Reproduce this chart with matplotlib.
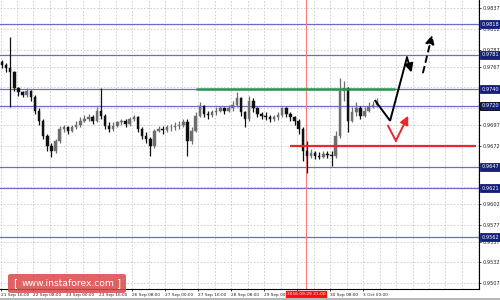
import matplotlib
matplotlib.use("Agg")
import matplotlib.pyplot as plt
from matplotlib.patches import FancyBboxPatch, Rectangle
import matplotlib.transforms as mtransforms
import numpy as np

# ---------------- data ----------------
first_open = 0.9772
closes = [0.9769, 0.9765, 0.9760, 0.9741, 0.9736, 0.9733, 0.9738, 0.9731, 0.9714, 0.9702,
          0.9684, 0.9672, 0.9666, 0.9678, 0.9692, 0.9694, 0.9690, 0.9695, 0.9697, 0.9702,
          0.9704, 0.9707, 0.9702, 0.9714, 0.9708, 0.9696, 0.9692, 0.9696, 0.9700, 0.9702,
          0.9698, 0.9704, 0.9707, 0.9692, 0.9684, 0.9680, 0.9672, 0.9690, 0.9692, 0.9691,
          0.9694, 0.9695, 0.9696, 0.9697, 0.9700, 0.9678, 0.9690, 0.9708, 0.9720, 0.9710,
          0.9709, 0.9712, 0.9714, 0.9717, 0.9714, 0.9717, 0.9721, 0.9729, 0.9712, 0.9704,
          0.9726, 0.9717, 0.9710, 0.9708, 0.9707, 0.9704, 0.9706, 0.9709, 0.9717, 0.9710,
          0.9706, 0.9702, 0.9692, 0.9666, 0.9660, 0.9663, 0.9660, 0.9659, 0.9662, 0.9661,
          0.9660, 0.9684, 0.9738, 0.9741, 0.9702, 0.9712, 0.9717, 0.9708, 0.9714, 0.9719,
          0.9721, 0.9726]
highs = [0.9775, 0.9771, 0.9803, 0.9762, 0.9743, 0.9738, 0.9741, 0.9739, 0.9733, 0.9717,
         0.9704, 0.9686, 0.9675, 0.9680, 0.9696, 0.9697, 0.9696, 0.9697, 0.9702, 0.9706,
         0.9709, 0.9710, 0.9709, 0.9719, 0.9741, 0.9710, 0.9700, 0.9700, 0.9702, 0.9704,
         0.9704, 0.9707, 0.9709, 0.9708, 0.9695, 0.9688, 0.9683, 0.9692, 0.9696, 0.9696,
         0.9697, 0.9698, 0.9700, 0.9702, 0.9704, 0.9704, 0.9695, 0.9712, 0.9724, 0.9721,
         0.9714, 0.9715, 0.9718, 0.9720, 0.9719, 0.9721, 0.9726, 0.9736, 0.9730, 0.9714,
         0.9732, 0.9729, 0.9719, 0.9713, 0.9712, 0.9709, 0.9709, 0.9712, 0.9719, 0.9718,
         0.9712, 0.9708, 0.9704, 0.9695, 0.9678, 0.9668, 0.9666, 0.9665, 0.9666, 0.9666,
         0.9666, 0.9690, 0.9753, 0.9750, 0.9743, 0.9719, 0.9724, 0.9720, 0.9719, 0.9724,
         0.9726, 0.9729]
lows = [0.9765, 0.9760, 0.9719, 0.9738, 0.9732, 0.9730, 0.9731, 0.9726, 0.9710, 0.9697,
        0.9680, 0.9666, 0.9659, 0.9663, 0.9675, 0.9688, 0.9686, 0.9688, 0.9692, 0.9695,
        0.9700, 0.9702, 0.9698, 0.9700, 0.9704, 0.9692, 0.9689, 0.9690, 0.9694, 0.9697,
        0.9695, 0.9696, 0.9702, 0.9688, 0.9680, 0.9675, 0.9660, 0.9669, 0.9688, 0.9686,
        0.9689, 0.9690, 0.9691, 0.9692, 0.9694, 0.9660, 0.9674, 0.9688, 0.9706, 0.9707,
        0.9704, 0.9706, 0.9709, 0.9712, 0.9710, 0.9712, 0.9714, 0.9719, 0.9708, 0.9694,
        0.9702, 0.9713, 0.9707, 0.9704, 0.9703, 0.9701, 0.9702, 0.9703, 0.9707, 0.9707,
        0.9702, 0.9697, 0.9686, 0.9654, 0.9639, 0.9657, 0.9656, 0.9656, 0.9657, 0.9657,
        0.9648, 0.9657, 0.9681, 0.9726, 0.9688, 0.9700, 0.9708, 0.9704, 0.9706, 0.9712,
        0.9717, 0.9719]

levels = [0.9818, 0.9781, 0.9740, 0.9720, 0.9647, 0.9621, 0.9562]
level_labels = ["0.9818", "0.9781", "0.9740", "0.9720", "0.9647", "0.9621", "0.9562"]

ytick_values = [0.9837, 0.9812, 0.9787, 0.9767, 0.9742, 0.9717, 0.9697, 0.9672,
                0.9647, 0.9622, 0.9602, 0.9577, 0.9557, 0.9532, 0.9507]
ytick_labels = ["0.9837", "0.9812", "0.9787", "0.9767", "", "", "0.9697", "0.9672",
                "", "0.9622", "0.9602", "0.9577", "0.9557", "0.9532", "0.9507"]

xtick_labels = ["21 Sep 16:00", "22 Sep 08:00", "23 Sep 00:00", "23 Sep 16:00",
                "26 Sep 08:00", "27 Sep 00:00", "27 Sep 16:00", "28 Sep 08:00",
                "29 Sep 00:00", "", "30 Sep 08:00", "3 Oct 00:00"]
cursor_bar = 73.8
cursor_label = "2016.09.29 21:00"

resistance_green = 0.9740
green_span = [47.1, 95.4]
support_red = 0.9672
red_span = [69.9, 115.0]

fc_black_x = [90.6, 94.2, 98.3, 99.4]
fc_black_y = [0.9726, 0.9702, 0.9778, 0.9760]
fc_dash_x = [102.2, 104.4]
fc_dash_y = [0.9760, 0.9805]
fc_red_x = [93.7, 95.6, 98.6]
fc_red_y = [0.9696, 0.9678, 0.9708]

watermark = "www.instaforex.com"

# ---------------- figure ----------------
plt.rcParams['font.family'] = ['DejaVu Sans']
fig = plt.figure(figsize=(5, 3), dpi=100)
fig.patch.set_facecolor('white')
ax = fig.add_axes([0.0, 11 / 300, 479 / 500, 289 / 300])
ax.set_facecolor('white')

n = len(closes)
opens = [first_open] + closes[:-1]

xmin, xmax = -0.485, 115.78
ax.set_xlim(xmin, xmax)
ax.set_ylim(0.9500, 0.9847)

# grid
first_tick = -0.36
grid_x = np.arange(first_tick, xmax, 4.0)
for gx in grid_x:
    ax.axvline(gx, color='#c9c9c9', lw=0.6, ls=(0, (2, 2)), zorder=0)
for gy in ytick_values:
    ax.axhline(gy, color='#c9c9c9', lw=0.6, ls=(0, (2, 2)), zorder=0)

# level lines
for lv in levels:
    ax.axhline(lv, color='#6a6acb', lw=0.9, zorder=1)

# cursor vertical
ax.axvline(cursor_bar, color='#ff7b7b', lw=0.8, zorder=1)

# candles
for i in range(n):
    o, c, h, l = opens[i], closes[i], highs[i], lows[i]
    col = '#6e6e6e' if c > o else '#111111'
    ax.vlines(i, l, h, color=col, lw=0.9, zorder=3)
    bottom = min(o, c)
    height = max(abs(c - o), 0.00004)
    ax.bar(i, height, bottom=bottom, width=0.6, color=col, edgecolor=col, lw=0.3, zorder=3)

# green and red horizontal lines
ax.hlines(resistance_green, green_span[0], green_span[1], color='#1f9a4c', lw=1.8, zorder=4)
ax.hlines(support_red, red_span[0], red_span[1], color='#e8282d', lw=1.6, zorder=4)

# forecasts
ax.plot(fc_black_x[:3], fc_black_y[:3], color='black', lw=1.4, zorder=5, solid_joinstyle='miter')
ax.annotate('', xy=(fc_black_x[3], fc_black_y[3]), xytext=(fc_black_x[2], fc_black_y[2]),
            arrowprops=dict(arrowstyle='-|>,head_length=0.5,head_width=0.25', color='black', lw=1.4,
                            shrinkA=0, shrinkB=0), zorder=5)
ax.annotate('', xy=(fc_dash_x[1], fc_dash_y[1]), xytext=(fc_dash_x[0], fc_dash_y[0]),
            arrowprops=dict(arrowstyle='-|>,head_length=0.5,head_width=0.25', color='black', lw=1.4,
                            ls=(0, (3, 2.5)), shrinkA=0, shrinkB=0), zorder=5)
ax.plot(fc_red_x[:2], fc_red_y[:2], color='#e8282d', lw=1.4, zorder=5)
ax.annotate('', xy=(fc_red_x[2], fc_red_y[2]), xytext=(fc_red_x[1], fc_red_y[1]),
            arrowprops=dict(arrowstyle='-|>,head_length=0.5,head_width=0.25', color='#e8282d', lw=1.4,
                            shrinkA=0, shrinkB=0), zorder=5)

# axes styling
for s in ['top', 'left']:
    ax.spines[s].set_visible(False)
ax.spines['right'].set_color('black')
ax.spines['bottom'].set_color('black')
ax.spines['right'].set_linewidth(0.8)
ax.spines['bottom'].set_linewidth(0.8)

ax.yaxis.tick_right()
ax.set_yticks(ytick_values)
ax.set_yticklabels(ytick_labels)
ax.tick_params(axis='y', labelsize=3.6, length=1.5, width=0.5, pad=1.0, colors='black', labelcolor='#222222')

xt = first_tick + 8.0 * np.arange(len(xtick_labels))
ax.set_xticks(xt)
ax.set_xticklabels(xtick_labels, ha='left')
ax.tick_params(axis='x', labelsize=3.1, length=1.5, width=0.5, pad=1.2, colors='black', labelcolor='#222222')

# level labels
trans = mtransforms.blended_transform_factory(ax.transAxes, ax.transData)
for lv, lb in zip(levels, level_labels):
    ec = 'black' if lb == "0.9720" else '#14207a'
    ax.text(1.0045, lv, lb, transform=trans, ha='left', va='center', fontsize=3.6, color='white',
            bbox=dict(boxstyle='square,pad=0.3', fc='#14207a', ec=ec, lw=0.6), zorder=6, clip_on=False)

# cursor date label
transx = mtransforms.blended_transform_factory(ax.transData, ax.transAxes)
ax.text(cursor_bar, -0.012, cursor_label, transform=transx, ha='center', va='top', fontsize=3.2,
        color='white', bbox=dict(boxstyle='square,pad=0.25', fc='#ff1010', ec='#ff1010'), zorder=7, clip_on=False)

# watermark
wm = FancyBboxPatch((8 / 500, 7 / 300), 118 / 500, 19 / 300, boxstyle='round,pad=0,rounding_size=0.006',
                    transform=fig.transFigure, fc='#d94848', ec='none', alpha=0.85, zorder=10)
fig.patches.append(wm)
fig.text(68 / 500, 16.5 / 300, watermark, ha='center', va='center', fontsize=6.6,
         color='white', zorder=11)
fig.text(15 / 500, 16.5 / 300, "[", ha='center', va='center', fontsize=7.5, color='white', zorder=11)
fig.text(119 / 500, 16.5 / 300, "]", ha='center', va='center', fontsize=7.5, color='white', zorder=11)

# bottom gray border
fig.patches.append(Rectangle((0, 0), 1, 2.5 / 300, transform=fig.transFigure, fc='#b8b8b8', ec='none'))

fig.savefig('out.png', dpi=100, facecolor='white')
